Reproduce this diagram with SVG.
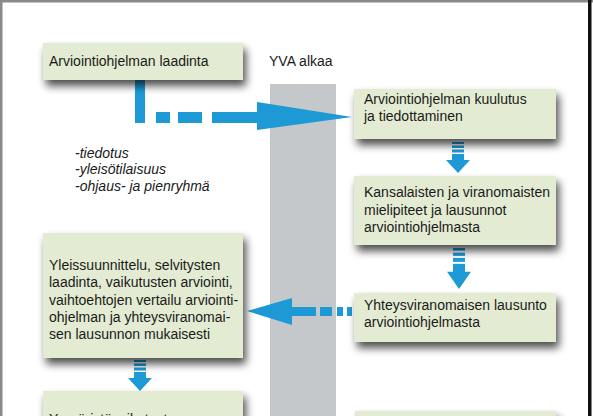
<svg xmlns="http://www.w3.org/2000/svg" width="593" height="416" viewBox="0 0 593 416">
<style>
.box{fill:#e3ecd2;filter:url(#sh)}
.t{font-family:"Liberation Sans",Arial,sans-serif;font-size:14px;fill:#1a1a1a}
.it{font-style:italic}
.ar{fill:#1d9ad6}
</style>
<defs>
<filter id="sh" x="-20%" y="-30%" width="150%" height="190%">
<feGaussianBlur in="SourceAlpha" stdDeviation="4"/>
<feOffset dx="3" dy="6" result="b"/>
<feComponentTransfer><feFuncA type="linear" slope="0.7"/></feComponentTransfer>
<feMerge><feMergeNode/><feMergeNode in="SourceGraphic"/></feMerge>
</filter>
<g id="down">
<rect x="-6" y="0" width="12" height="2"/>
<rect x="-6" y="3.5" width="12" height="2.5"/>
<rect x="-6" y="7.5" width="12" height="3"/>
<rect x="-6" y="12" width="12" height="7"/>
<polygon points="-12,18 12,18 0,31"/>
</g>
</defs>
<rect width="593" height="416" fill="#fff"/>
<rect x="0" y="0" width="2.5" height="416" fill="#8a8a8a"/>
<rect x="0" y="0" width="593" height="2.5" fill="#8a8a8a"/>
<rect x="588" y="0" width="3.5" height="416" fill="#111"/>

<rect id="yva-bar" x="270" y="84" width="66" height="332" fill="#c4c8cb"/>
<text class="t" x="269" y="66">YVA alkaa</text>

<g id="notes">
<text class="t it" x="75" y="158">-tiedotus</text>
<text class="t it" x="75" y="174">-yleisötilaisuus</text>
<text class="t it" x="75" y="191">-ohjaus- ja pienryhmä</text>
</g>

<g id="connectors" class="ar">
<rect x="135" y="80" width="10" height="43"/>
<rect x="156" y="112" width="14" height="11"/>
<rect x="178" y="112" width="24" height="11"/>
<rect x="212" y="112" width="46" height="11"/>
<polygon points="257,102 352,117 257,130"/>
<use href="#down" transform="translate(458,142)"/>
<use href="#down" transform="translate(459,248) scale(1,1.32)"/>
<rect x="291" y="307" width="25" height="9"/>
<rect x="320" y="307" width="12" height="9"/>
<rect x="337" y="307" width="6" height="9"/>
<rect x="347" y="307" width="5" height="9"/>
<polygon points="292,298 247,311 292,325"/>
<use href="#down" transform="translate(140,360)"/>
</g>

<g id="n1">
<rect class="box" x="43" y="43" width="200" height="37"/>
<text class="t" x="49" y="66">Arviointiohjelman laadinta</text>
</g>
<g id="n2">
<rect class="box" x="354" y="89" width="202" height="50"/>
<text class="t" x="364" y="104">Arviointiohjelman kuulutus</text>
<text class="t" x="364" y="121">ja tiedottaminen</text>
</g>
<g id="n3">
<rect class="box" x="354" y="176" width="202" height="69"/>
<text class="t" x="364" y="197">Kansalaisten ja viranomaisten</text>
<text class="t" x="364" y="215">mielipiteet ja lausunnot</text>
<text class="t" x="364" y="232">arviointiohjelmasta</text>
</g>
<g id="n4">
<rect class="box" x="354" y="293" width="202" height="49"/>
<text class="t" x="364" y="310">Yhteysviranomaisen lausunto</text>
<text class="t" x="364" y="327">arviointiohjelmasta</text>
</g>
<g id="n5">
<rect class="box" x="43" y="233" width="200" height="125"/>
<text class="t" x="49" y="270">Yleissuunnittelu, selvitysten</text>
<text class="t" x="49" y="287">laadinta, vaikutusten arviointi,</text>
<text class="t" x="49" y="305">vaihtoehtojen vertailu arviointi-</text>
<text class="t" x="49" y="322">ohjelman ja yhteysviranomai-</text>
<text class="t" x="49" y="339">sen lausunnon mukaisesti</text>
</g>
<g id="n6">
<rect class="box" x="43" y="391" width="200" height="40"/>
<text class="t" x="49" y="424">Ympäristövaikutusten</text>
</g>
<g id="n7">
<rect class="box" x="355" y="411" width="201" height="30"/>
</g>
</svg>
